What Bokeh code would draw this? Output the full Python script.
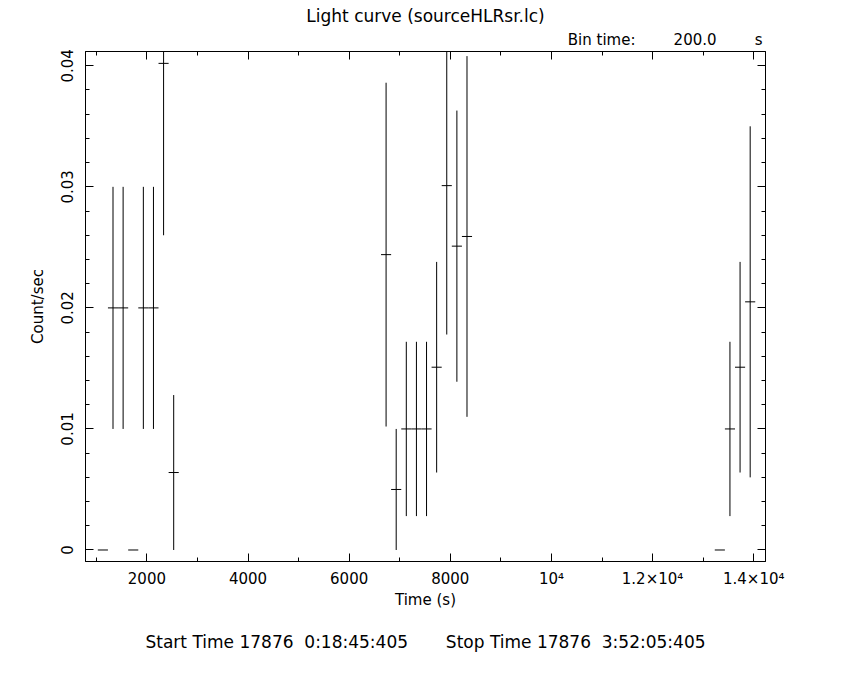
import numpy as np
from bokeh.plotting import figure
from bokeh.models import Range1d, SingleIntervalTicker, LinearAxis, Title, ColumnDataSource
from bokeh.embed import file_html
from bokeh.resources import INLINE

# ---- data ----
bin_time = 200.0
time_s = [1130, 1330, 1530, 1730, 1930, 2130, 2330, 2530,
          6730, 6930, 7130, 7330, 7530, 7730, 7930, 8130, 8330,
          13330, 13530, 13730, 13930]
rate = [0.0, 0.020, 0.020, 0.0, 0.020, 0.020, 0.0402, 0.0064,
        0.0244, 0.0050, 0.0100, 0.0100, 0.0100, 0.0151, 0.0301, 0.0251, 0.0259,
        0.0, 0.0100, 0.0151, 0.0205]
rate_err = [0.0, 0.010, 0.010, 0.0, 0.010, 0.010, 0.0142, 0.0064,
            0.0142, 0.0050, 0.0072, 0.0072, 0.0072, 0.0087, 0.0123, 0.0112, 0.0149,
            0.0, 0.0072, 0.0087, 0.0145]
x_tick_labels = {10000: "10\u2074", 12000: "1.2\u00d710\u2074", 14000: "1.4\u00d710\u2074"}
title_text = "Light curve (sourceHLRsr.lc)"
bin_label = "Bin time:"
bin_value = "200.0"
bin_unit = "s"
start_text = "Start Time 17876  0:18:45:405"
stop_text = "Stop Time 17876  3:52:05:405"

t = np.array(time_s, dtype=float)
r = np.array(rate)
e = np.array(rate_err)
h = bin_time / 2.0

src = ColumnDataSource(dict(x0=t - h, x1=t + h, xc=t, y=r, ylo=r - e, yhi=r + e))

FONT = "DejaVu Sans"
NB = "\u00a0"
W, H = 845, 675
FL, FT, FW, FH = 85, 51, 680, 510

p = figure(width=W, height=H, output_backend="svg", toolbar_location=None,
           x_range=Range1d(786, 14233), y_range=Range1d(-0.00095, 0.04118),
           min_border_left=FL, min_border_right=W - FL - FW,
           min_border_top=FT, min_border_bottom=H - FT - FH,
           x_axis_label="Time (s)", y_axis_label="Count/sec",
           title=title_text)
p.grid.visible = False
p.outline_line_color = "black"
p.background_fill_color = "white"
p.border_fill_color = "white"

p.title.text_font = FONT
p.title.text_font_size = "17px"
p.title.text_font_style = "normal"
p.title.text_color = "black"
p.title.align = "center"
p.title.standoff = 0

p.segment(x0="x0", y0="y", x1="x1", y1="y", source=src, line_color="black", line_width=1)
p.segment(x0="xc", y0="ylo", x1="xc", y1="yhi", source=src, line_color="black", line_width=1)

def style_axis(ax, labels=True):
    ax.axis_line_color = "black"
    ax.major_tick_line_color = "black"
    ax.minor_tick_line_color = "black"
    ax.major_tick_in = 8
    ax.major_tick_out = 0
    ax.minor_tick_in = 4
    ax.minor_tick_out = 0
    ax.major_label_text_font = FONT
    ax.major_label_text_font_size = "15px"
    ax.major_label_text_color = "black"
    ax.axis_label_text_font = FONT
    ax.axis_label_text_font_size = "15px"
    ax.axis_label_text_font_style = "normal"
    ax.axis_label_text_color = "black"
    if not labels:
        ax.major_label_text_font_size = "0px"
        ax.major_label_text_color = None
        ax.major_label_standoff = 0

xa = p.xaxis[0]
xa.ticker = SingleIntervalTicker(interval=2000, num_minor_ticks=2)
style_axis(xa)
xa.major_label_overrides = x_tick_labels
xa.major_label_standoff = 8
xa.axis_label_standoff = 0

ya = p.yaxis[0]
ya.ticker = SingleIntervalTicker(interval=0.01, num_minor_ticks=5)
style_axis(ya)
ya.major_label_orientation = "vertical"
ya.major_label_standoff = 12
ya.axis_label_standoff = 12

top = LinearAxis(ticker=SingleIntervalTicker(interval=2000, num_minor_ticks=2))
style_axis(top, labels=False)
p.add_layout(top, "above")
right = LinearAxis(ticker=SingleIntervalTicker(interval=0.01, num_minor_ticks=5))
style_axis(right, labels=False)
p.add_layout(right, "right")

bin_title = Title(text=bin_label + NB * 8 + bin_value + NB * 8 + bin_unit,
                  align="right", text_font=FONT, text_font_size="15px",
                  text_font_style="normal", text_color="black", standoff=6, offset=3)
p.add_layout(bin_title, "above")

time_title = Title(text=start_text.replace(" ", NB) + NB * 7 + stop_text.replace(" ", NB),
                   align="center", text_font=FONT, text_font_size="17px",
                   text_font_style="normal", text_color="black", standoff=37)
p.add_layout(time_title, "below")

open("out.html", "w").write(file_html(p, INLINE))
